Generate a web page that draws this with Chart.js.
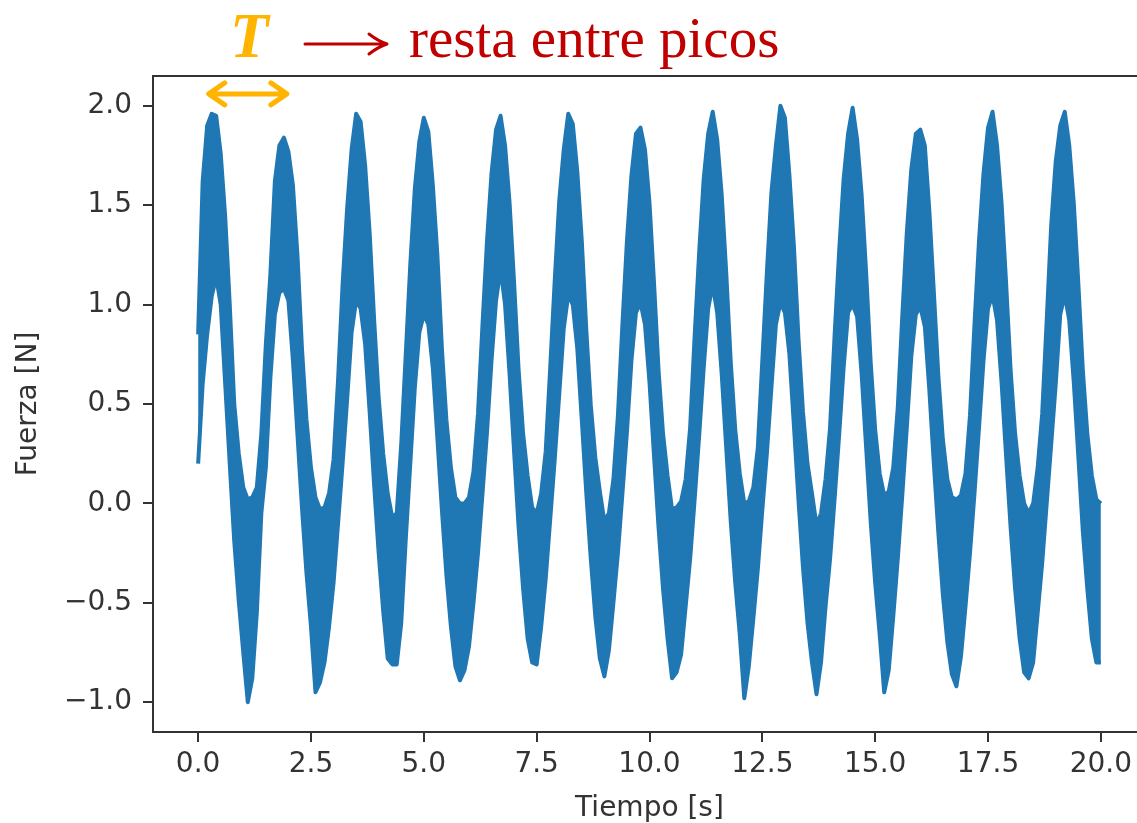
<!DOCTYPE html>
<html>
<head>
<meta charset="utf-8">
<script src="https://cdn.jsdelivr.net/npm/chart.js@4.4.1/dist/chart.umd.min.js"></script>
<style>
  html, body { margin: 0; padding: 0; background: #fff; overflow: hidden; }
  #wrap { width: 1150px; height: 823px; }
</style>
</head>
<body>
<div id="wrap"><canvas id="myChart" width="1150" height="823"></canvas></div>
<script>
// tiempo de muestreo [s]
const tiempo = [
  0.0, 0.1, 0.2, 0.3, 0.4, 0.5, 0.6, 0.7, 0.8, 0.9,
  1.0, 1.1, 1.2, 1.3, 1.4, 1.5, 1.6, 1.7, 1.8, 1.9,
  2.0, 2.1, 2.2, 2.3, 2.4, 2.5, 2.6, 2.7, 2.8, 2.9,
  3.0, 3.1, 3.2, 3.3, 3.4, 3.5, 3.6, 3.7, 3.8, 3.9,
  4.0, 4.1, 4.2, 4.3, 4.4, 4.5, 4.6, 4.7, 4.8, 4.9,
  5.0, 5.1, 5.2, 5.3, 5.4, 5.5, 5.6, 5.7, 5.8, 5.9,
  6.0, 6.1, 6.2, 6.3, 6.4, 6.5, 6.6, 6.7, 6.8, 6.9,
  7.0, 7.1, 7.2, 7.3, 7.4, 7.5, 7.6, 7.7, 7.8, 7.9,
  8.0, 8.1, 8.2, 8.3, 8.4, 8.5, 8.6, 8.7, 8.8, 8.9,
  9.0, 9.1, 9.2, 9.3, 9.4, 9.5, 9.6, 9.7, 9.8, 9.9,
  10.0, 10.1, 10.2, 10.3, 10.4, 10.5, 10.6, 10.7, 10.8, 10.9,
  11.0, 11.1, 11.2, 11.3, 11.4, 11.5, 11.6, 11.7, 11.8, 11.9,
  12.0, 12.1, 12.2, 12.3, 12.4, 12.5, 12.6, 12.7, 12.8, 12.9,
  13.0, 13.1, 13.2, 13.3, 13.4, 13.5, 13.6, 13.7, 13.8, 13.9,
  14.0, 14.1, 14.2, 14.3, 14.4, 14.5, 14.6, 14.7, 14.8, 14.9,
  15.0, 15.1, 15.2, 15.3, 15.4, 15.5, 15.6, 15.7, 15.8, 15.9,
  16.0, 16.1, 16.2, 16.3, 16.4, 16.5, 16.6, 16.7, 16.8, 16.9,
  17.0, 17.1, 17.2, 17.3, 17.4, 17.5, 17.6, 17.7, 17.8, 17.9,
  18.0, 18.1, 18.2, 18.3, 18.4, 18.5, 18.6, 18.7, 18.8, 18.9,
  19.0, 19.1, 19.2, 19.3, 19.4, 19.5, 19.6, 19.7, 19.8, 19.9,
  20.0
];

// borde superior de la banda de ruido [N]
const fuerzaMax = [
  0.85, 1.62, 1.90, 1.96, 1.95, 1.76, 1.44, 1.00, 0.50, 0.25,
  0.08, 0.02, 0.03, 0.08, 0.35, 0.80, 1.15, 1.62, 1.80, 1.84,
  1.77, 1.60, 1.25, 0.78, 0.42, 0.18, 0.03, -0.03, -0.02, 0.05,
  0.22, 0.62, 1.10, 1.48, 1.78, 1.96, 1.92, 1.70, 1.36, 0.92,
  0.53, 0.25, 0.05, -0.07, -0.05, 0.30, 0.75, 1.20, 1.58, 1.82,
  1.94, 1.87, 1.60, 1.25, 0.78, 0.42, 0.18, 0.03, 0.00, 0.00,
  0.03, 0.16, 0.45, 0.90, 1.32, 1.66, 1.88, 1.95, 1.80, 1.51,
  1.11, 0.67, 0.35, 0.14, -0.02, -0.05, 0.05, 0.26, 0.68, 1.12,
  1.52, 1.78, 1.96, 1.91, 1.67, 1.32, 0.87, 0.49, 0.23, 0.06,
  -0.09, -0.05, 0.12, 0.44, 0.90, 1.32, 1.65, 1.86, 1.89, 1.78,
  1.51, 1.11, 0.67, 0.35, 0.14, -0.03, -0.02, 0.01, 0.12, 0.38,
  0.84, 1.26, 1.63, 1.86, 1.97, 1.83, 1.55, 1.16, 0.71, 0.37,
  0.15, 0.00, 0.01, 0.08, 0.28, 0.72, 1.16, 1.56, 1.80, 2.00,
  1.94, 1.65, 1.29, 0.83, 0.46, 0.20, 0.05, -0.11, -0.05, 0.12,
  0.38, 0.84, 1.26, 1.63, 1.86, 1.99, 1.83, 1.55, 1.16, 0.71,
  0.37, 0.15, 0.04, 0.06, 0.18, 0.48, 0.94, 1.36, 1.68, 1.86,
  1.88, 1.80, 1.47, 1.06, 0.64, 0.32, 0.12, 0.03, 0.02, 0.04,
  0.15, 0.44, 0.90, 1.32, 1.66, 1.89, 1.97, 1.80, 1.51, 1.11,
  0.67, 0.35, 0.14, 0.00, -0.05, 0.00, 0.18, 0.45, 0.92, 1.40,
  1.72, 1.90, 1.97, 1.80, 1.51, 1.11, 0.67, 0.35, 0.14, 0.02,
  0.00
];

// borde inferior de la banda de ruido [N]
const fuerzaMin = [
  0.20, 0.60, 0.85, 1.04, 1.14, 1.00, 0.60, 0.20, -0.19, -0.49,
  -0.75, -1.00, -0.88, -0.55, -0.05, 0.18, 0.63, 0.95, 1.06, 1.08,
  1.02, 0.72, 0.35, -0.02, -0.35, -0.62, -0.95, -0.90, -0.80, -0.62,
  -0.40, -0.10, 0.20, 0.52, 0.86, 1.02, 0.98, 0.80, 0.46, 0.09,
  -0.25, -0.54, -0.78, -0.81, -0.81, -0.60, -0.18, 0.20, 0.58, 0.86,
  0.95, 0.90, 0.68, 0.33, -0.03, -0.36, -0.62, -0.82, -0.89, -0.84,
  -0.72, -0.50, -0.25, 0.05, 0.36, 0.72, 1.02, 1.18, 1.00, 0.65,
  0.26, -0.12, -0.43, -0.68, -0.80, -0.81, -0.62, -0.38, -0.08, 0.22,
  0.55, 0.88, 1.05, 1.00, 0.78, 0.42, 0.05, -0.28, -0.57, -0.78,
  -0.87, -0.74, -0.50, -0.25, 0.05, 0.36, 0.72, 0.96, 1.01, 0.90,
  0.61, 0.24, -0.12, -0.43, -0.68, -0.88, -0.85, -0.76, -0.52, -0.28,
  0.02, 0.34, 0.68, 0.98, 1.10, 0.96, 0.65, 0.28, -0.09, -0.40,
  -0.66, -0.98, -0.82, -0.58, -0.33, -0.03, 0.25, 0.58, 0.90, 1.01,
  0.96, 0.75, 0.39, 0.02, -0.32, -0.60, -0.80, -0.96, -0.80, -0.52,
  -0.28, 0.02, 0.34, 0.68, 0.96, 1.00, 0.94, 0.65, 0.28, -0.09,
  -0.40, -0.66, -0.95, -0.84, -0.57, -0.28, 0.04, 0.38, 0.74, 0.95,
  0.99, 0.89, 0.57, 0.20, -0.15, -0.46, -0.70, -0.86, -0.92, -0.77,
  -0.52, -0.25, 0.05, 0.38, 0.72, 0.98, 1.05, 0.92, 0.61, 0.24,
  -0.12, -0.43, -0.68, -0.85, -0.88, -0.80, -0.55, -0.30, 0.00, 0.30,
  0.60, 0.95, 1.05, 0.92, 0.61, 0.24, -0.14, -0.43, -0.68, -0.80,
  -0.80
];

const ticksX = [0, 2.5, 5, 7.5, 10, 12.5, 15, 17.5, 20];
const ticksY = [-1, -0.5, 0, 0.5, 1, 1.5, 2];

// el periodo marcado con la flecha doble (en segundos)
const periodoInicio = 0.19;
const periodoFin = 2.01;

const azul = '#1f77b4';
const gris = '#333333';

const ctx = document.getElementById('myChart').getContext('2d');

const anotaciones = {
  id: 'anotaciones',
  afterDraw(chart) {
    const c = chart.ctx;
    const a = chart.chartArea;
    const x = chart.scales.x;
    const y = chart.scales.y;
    c.save();

    // marco completo (estilo matplotlib)
    c.strokeStyle = gris;
    c.lineWidth = 2;
    c.strokeRect(a.left, a.top, a.right - a.left, a.bottom - a.top);

    // flecha doble naranja del periodo
    const x1 = x.getPixelForValue(periodoInicio);
    const x2 = x.getPixelForValue(periodoFin);
    const yf = y.getPixelForValue(2.06);
    c.strokeStyle = '#FFB400';
    c.lineWidth = 5;
    c.lineCap = 'round';
    c.lineJoin = 'round';
    c.beginPath();
    c.moveTo(x1 + 3, yf);
    c.lineTo(x2 - 3, yf);
    c.moveTo(x1 + 18, yf - 11);
    c.lineTo(x1 + 2, yf);
    c.lineTo(x1 + 18, yf + 11);
    c.moveTo(x2 - 18, yf - 11);
    c.lineTo(x2 - 2, yf);
    c.lineTo(x2 - 18, yf + 11);
    c.stroke();

    // T
    c.fillStyle = '#FFB400';
    c.font = 'italic bold 63px "Liberation Serif"';
    c.textBaseline = 'alphabetic';
    c.textAlign = 'left';
    c.fillText('T', 230, 57);

    // flecha roja
    c.strokeStyle = '#C00000';
    c.lineWidth = 3;
    c.lineCap = 'round';
    c.beginPath();
    c.moveTo(305, 44);
    c.lineTo(385, 44);
    c.moveTo(369, 34);
    c.quadraticCurveTo(378, 41, 387, 44);
    c.quadraticCurveTo(378, 47, 369, 54);
    c.stroke();

    c.fillStyle = '#C00000';
    c.font = '57px "Liberation Serif"';
    c.fillText('resta entre picos', 409, 57);

    c.restore();
  }
};

const data = {
  datasets: [
    {
      label: 'min',
      data: tiempo.map((t, i) => ({ x: t, y: fuerzaMin[i] })),
      borderColor: azul,
      backgroundColor: azul,
      borderWidth: 4,
      borderJoinStyle: 'round',
      pointRadius: 0,
      tension: 0,
      fill: false
    },
    {
      label: 'max',
      data: tiempo.map((t, i) => ({ x: t, y: fuerzaMax[i] })),
      borderColor: azul,
      backgroundColor: azul,
      borderWidth: 4,
      borderJoinStyle: 'round',
      pointRadius: 0,
      tension: 0,
      fill: '-1'
    }
  ]
};

const config = {
  type: 'line',
  data: data,
  options: {
    responsive: false,
    animation: false,
    layout: { padding: { top: 76, right: 4, left: 0, bottom: 0 } },
    plugins: {
      legend: { display: false },
      tooltip: { enabled: false }
    },
    scales: {
      x: {
        type: 'linear',
        min: -1,
        max: 21,
        afterBuildTicks: s => { s.ticks = ticksX.map(v => ({ value: v })); },
        afterFit: s => { s.height = 91; },
        ticks: {
          callback: v => v.toFixed(1),
          font: { family: 'DejaVu Sans', size: 28 },
          color: gris,
          padding: 6,
          maxRotation: 0,
          autoSkip: false
        },
        grid: { display: true, drawOnChartArea: false, drawTicks: true, tickLength: 10, color: gris, lineWidth: 2 },
        border: { display: true, color: gris, width: 2 },
        title: {
          display: true,
          text: 'Tiempo [s]',
          font: { family: 'DejaVu Sans', size: 28 },
          color: gris,
          padding: { top: 0, bottom: -3 }
        }
      },
      y: {
        type: 'linear',
        min: -1.15,
        max: 2.15,
        afterBuildTicks: s => { s.ticks = ticksY.map(v => ({ value: v })); },
        afterFit: s => { s.width = 153; },
        ticks: {
          callback: v => (v < 0 ? '\u2212' : '') + Math.abs(v).toFixed(1),
          font: { family: 'DejaVu Sans', size: 28 },
          color: gris,
          padding: 11,
          autoSkip: false
        },
        grid: { display: true, drawOnChartArea: false, drawTicks: true, tickLength: 10, color: gris, lineWidth: 2 },
        border: { display: true, color: gris, width: 2 },
        title: {
          display: true,
          text: 'Fuerza [N]',
          font: { family: 'DejaVu Sans', size: 28 },
          color: gris,
          padding: { top: 12, bottom: 0 }
        }
      }
    }
  },
  plugins: [anotaciones]
};

const myChart = new Chart(ctx, config);
</script>
</body>
</html>
